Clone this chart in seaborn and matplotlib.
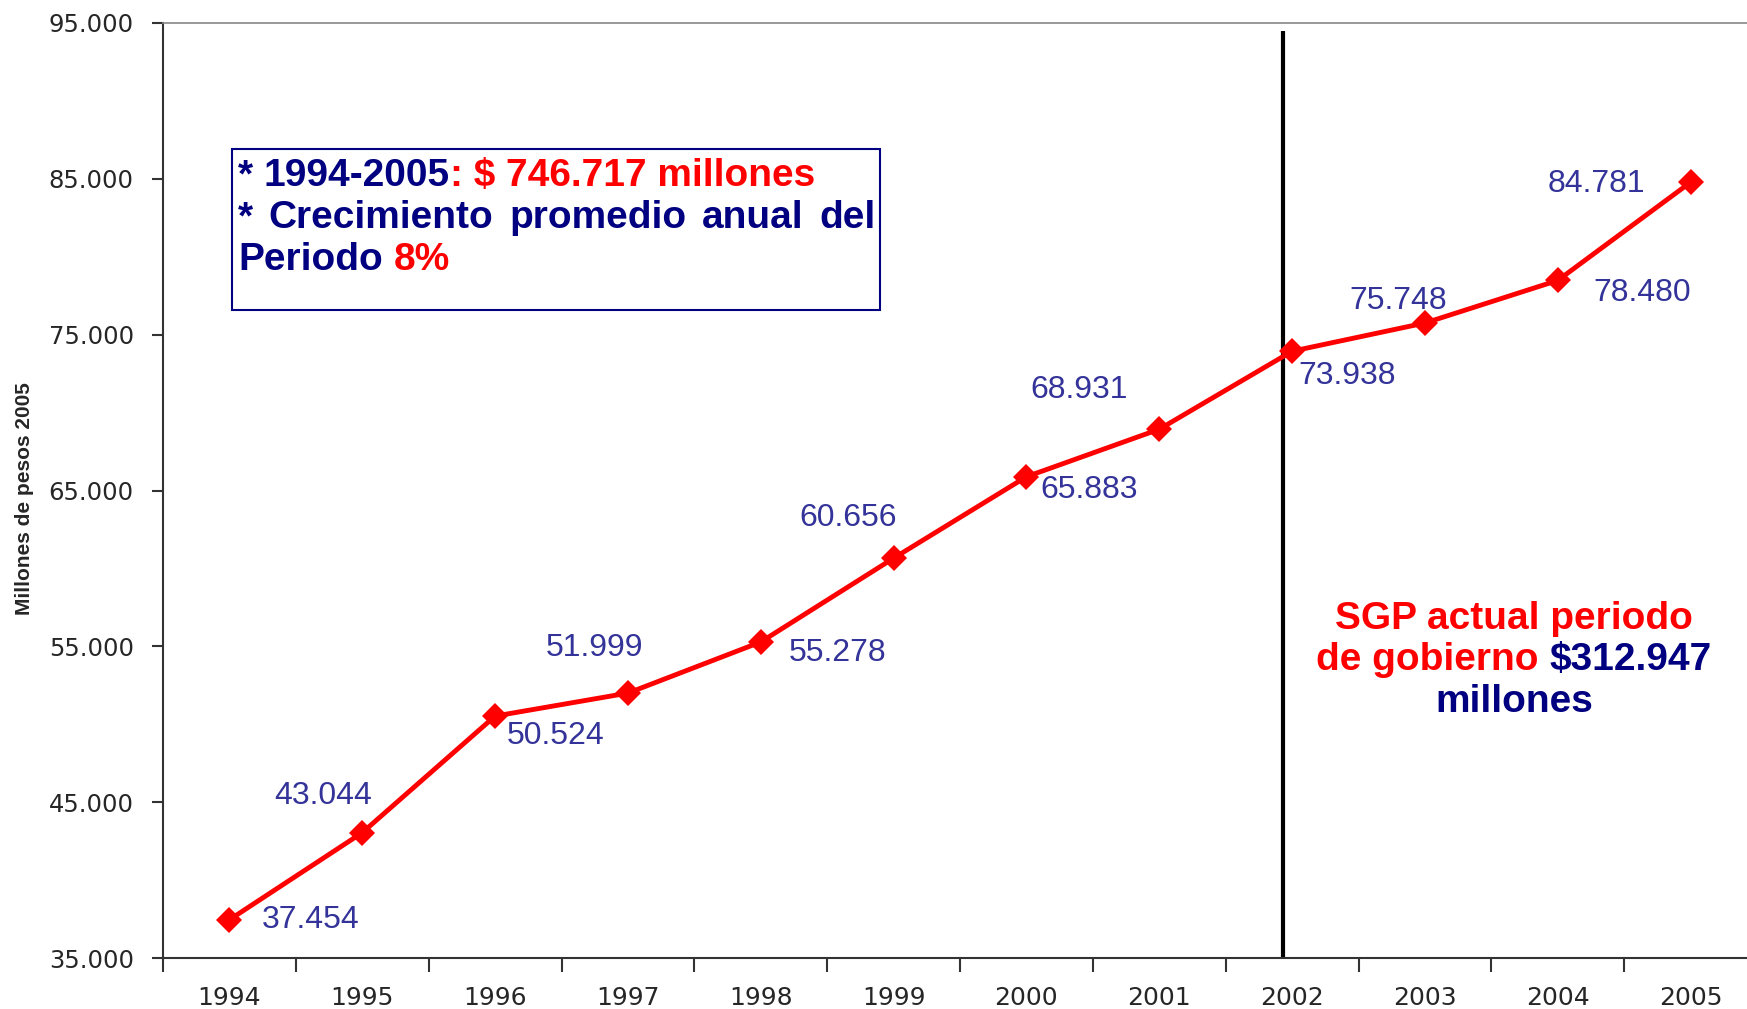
import matplotlib
matplotlib.use('Agg')
import matplotlib.pyplot as plt
import seaborn as sns
import numpy as np
import pandas as pd
from matplotlib.transforms import offset_copy
from matplotlib.patches import Rectangle
from matplotlib.ticker import FuncFormatter

# datos (millones de pesos 2005)
anios = [1994, 1995, 1996, 1997, 1998, 1999, 2000, 2001, 2002, 2003, 2004, 2005]
valores = [37454, 43044, 50524, 51999, 55278, 60656, 65883, 68931, 73938, 75748, 78480, 84781]
y_ticks = [35000, 45000, 55000, 65000, 75000, 85000, 95000]

# desplazamiento de cada etiqueta respecto a su punto (pixeles)
label_offsets = [(81, 0), (-39, 37), (61, -20), (-33, 45), (77, -11), (-45, 40),
                 (63, -13), (-80, 39), (55, -25), (-27, 22), (84, -13), (-94, -2)]

NAVY = '#000080'
RED = '#ff0000'
LABEL_BLUE = '#333399'

sns.set_style('ticks')
plt.rcParams['font.family'] = ['DejaVu Sans']

DPI = 100
fig = plt.figure(figsize=(17.47, 10.09), dpi=DPI)
ax = fig.add_axes([163 / 1747, 1 - 958 / 1009, 1594 / 1747, 935 / 1009])

df = pd.DataFrame({'anio': anios, 'valor': valores})
sns.lineplot(data=df, x='anio', y='valor', ax=ax, color=RED, linewidth=3.5,
             marker='D', markersize=13, markeredgewidth=0, zorder=3)

ax.set_xlim(1993.5, 2005.5)
ax.set_ylim(35000, 95000)
ax.set_xticks(anios)
ax.set_xticks(np.arange(1993.5, 2006, 1), minor=True)
ax.set_yticks(y_ticks)
ax.yaxis.set_major_formatter(FuncFormatter(lambda v, p: f"{int(v):,}".replace(',', '.')))
ax.tick_params(axis='x', which='major', bottom=True, length=0, pad=20,
               labelsize=18, labelcolor='#262626')
ax.tick_params(axis='x', which='minor', bottom=True, length=10, width=1.5,
               color='#333333', direction='out')
ax.tick_params(axis='y', left=True, length=8, width=1.5, color='#333333',
               direction='out', pad=13, labelsize=17.5, labelcolor='#262626')
ax.set_xlabel('')
ax.set_ylabel('')

for side in ['left', 'bottom']:
    ax.spines[side].set_color('#333333')
    ax.spines[side].set_linewidth(1.5)
ax.spines['top'].set_visible(True)
ax.spines['top'].set_color('#888888')
ax.spines['top'].set_linewidth(1.2)
ax.spines['right'].set_visible(False)

# linea vertical del periodo de gobierno
ax.vlines(2001.935, 35000, 94500, color='black', linewidth=3, zorder=2)

# etiquetas de datos
for x, v, (dx, dy) in zip(anios, valores, label_offsets):
    ax.annotate(f"{v:,}".replace(',', '.'), xy=(x, v), xytext=(dx, dy),
                textcoords='offset pixels', ha='center', va='center',
                fontsize=23, color=LABEL_BLUE, family=['Liberation Sans', 'DejaVu Sans'])

renderer = fig.canvas.get_renderer()
BOLD_FAMILY = ['Liberation Sans', 'DejaVu Sans']


def draw_line(x, y, segments, fs, center=False, width_px=None):
    texts, widths = [], []
    for s, c, sp in segments:
        t = ax.text(x, y, s, color=c, fontsize=fs, fontweight='bold', va='baseline',
                    ha='left', family=BOLD_FAMILY)
        widths.append(t.get_window_extent(renderer).width)
        texts.append(t)
    n_sp = sum(1 for _, _, sp in segments if sp)
    space = 0.278 * fs * DPI / 72
    if width_px is not None and n_sp:
        space = (width_px - sum(widths)) / n_sp
    total = sum(widths) + space * n_sp
    pos = -total / 2 if center else 0
    for t, w, (s, c, sp) in zip(texts, widths, segments):
        if sp:
            pos += space
        t.set_transform(offset_copy(ax.transData, fig=fig, x=pos, y=0, units='dots'))
        pos += w


# recuadro superior izquierdo
ax.add_patch(Rectangle((1994.02, 76583), 1998.90 - 1994.02, 86914 - 76583,
                       fill=False, edgecolor=NAVY, linewidth=1.5, zorder=4))
p0 = ax.transData.transform((1994.064, 80000))
p1 = ax.transData.transform((1998.865, 80000))
draw_line(1994.064, 84540, [("*", NAVY, False), ("1994-2005", NAVY, True),
                            (": $ 746.717 millones", RED, False)], 28)
draw_line(1994.064, 81845, [("*", NAVY, False), ("Crecimiento", NAVY, True),
                            ("promedio", NAVY, True), ("anual", NAVY, True),
                            ("del", NAVY, True)], 28, width_px=p1[0] - p0[0])
draw_line(1994.064, 79150, [("Periodo", NAVY, False), ("8%", RED, True)], 28)

# texto derecho
draw_line(2003.67, 56114, [("SGP actual periodo", RED, False)], 28, center=True)
draw_line(2003.67, 53483, [("de gobierno", RED, False), ("$312.947", NAVY, True)], 28, center=True)
draw_line(2003.67, 50788, [("millones", NAVY, False)], 28, center=True)

fig.text(25 / 1747, 1 - 499 / 1009, 'Millones de pesos 2005', rotation=90,
         ha='center', va='center', fontsize=15, fontweight='bold',
         family=['Liberation Sans Narrow', 'Liberation Sans', 'DejaVu Sans'])

fig.savefig('out.png', dpi=DPI)
